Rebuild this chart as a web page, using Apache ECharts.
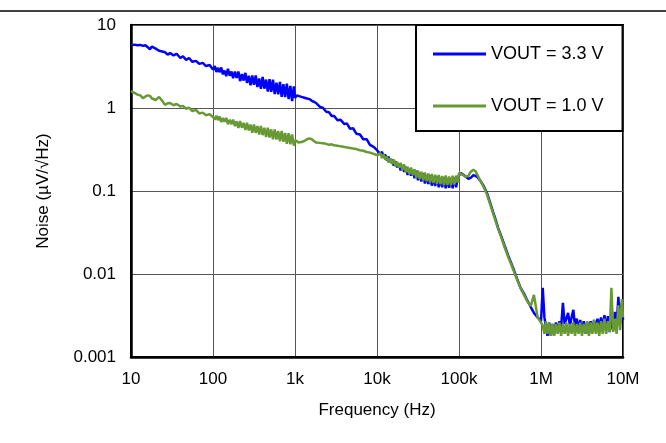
<!DOCTYPE html>
<html>
<head>
<meta charset="utf-8">
<script src="https://cdn.jsdelivr.net/npm/echarts@6/dist/echarts.min.js"></script>
<style>html,body{margin:0;padding:0;background:#fff}#c{width:666px;height:443px}</style>
</head>
<body>
<div id="c"></div>
<script>
// Frequency points (Hz)
const freqs = [
10,11,12,13,14,15,16,17,18,20,22,24,26,28,30,33,36,40,43,47,51,56,62,68,75,82,91,100,
105,110,115,120,126,132,138,145,152,160,168,176,185,194,204,214,225,236,248,260,273,287,301,316,332,348,366,384,403,423,444,466,489,513,539,566,594,624,655,688,722,758,796,836,878,922,968,1000,
1050,1100,1200,1300,1400,1500,1600,1700,1800,2000,2200,2400,2600,2800,3000,3300,3600,4000,4300,4700,5100,5600,6200,6800,7500,8200,9100,10000,
10500,11000,11500,12000,12600,13200,13800,14500,15200,16000,16800,17600,18500,19400,20400,21400,22500,23600,24800,26000,27300,28700,30100,31600,33200,34800,36600,38400,40300,42300,44400,46600,48900,51300,53900,56600,59400,62400,65500,68800,72200,75800,79600,83600,87800,92200,96800,100000,
105000,110000,120000,130000,140000,150000,160000,170000,180000,200000,220000,240000,260000,280000,300000,330000,360000,400000,430000,470000,510000,560000,620000,680000,750000,820000,910000,1000000,
1050000,1100000,1150000,1200000,1260000,1320000,1380000,1450000,1520000,1600000,1680000,1760000,1850000,1940000,2040000,2140000,2250000,2360000,2480000,2600000,2730000,2870000,3010000,3160000,3320000,3480000,3660000,3840000,4030000,4230000,4440000,4660000,4890000,5130000,5390000,5660000,5940000,6240000,6550000,6880000,7220000,7580000,7960000,8360000,8780000,9220000,9680000,10000000
];
// Noise, VOUT = 3.3 V (uV/rtHz)
const vout33 = [
5.7,5.8,5.7,5.75,5.6,5.7,5.4,5.1,5.5,5.2,4.9,4.8,4.7,4.4,4.6,4.3,4.5,4.0,4.2,3.8,4.0,3.6,3.7,3.4,3.5,3.2,3.3,2.9,
3.20,2.72,3.05,2.70,3.08,2.54,2.83,2.42,2.97,2.45,2.75,2.29,2.75,2.30,2.75,2.11,2.56,2.14,2.65,2.00,2.44,1.88,2.46,1.91,2.47,1.79,2.27,1.70,2.36,1.71,2.20,1.58,2.22,1.57,2.20,1.47,2.02,1.46,2.06,1.36,1.94,1.35,1.96,1.28,1.85,1.21,1.82,1.32,
1.42,1.40,1.36,1.33,1.30,1.28,1.22,1.19,1.15,1.04,1.00,0.90,0.89,0.80,0.80,0.71,0.72,0.64,0.65,0.56,0.57,0.49,0.48,0.42,0.42,0.36,0.34,0.31,
0.318,0.276,0.297,0.256,0.275,0.233,0.260,0.224,0.240,0.202,0.228,0.193,0.213,0.177,0.205,0.170,0.196,0.156,0.184,0.153,0.179,0.143,0.175,0.135,0.165,0.130,0.164,0.123,0.155,0.121,0.155,0.116,0.149,0.115,0.150,0.111,0.144,0.111,0.146,0.108,0.142,0.109,0.143,0.108,0.146,0.111,0.146,0.15,
0.165,0.16,0.15,0.14,0.145,0.155,0.152,0.145,0.135,0.115,0.094,0.072,0.056,0.045,0.036,0.028,0.022,0.0165,0.0138,0.0110,0.0088,0.0069,0.0058,0.0048,0.0040,0.0034,0.0030,0.0027,
0.0068,0.0030,0.0023,0.0018,0.0026,0.0018,0.0025,0.0019,0.0026,0.0020,0.0027,0.0023,0.0045,0.0025,0.0029,0.0034,0.0024,0.0030,0.0037,0.0023,0.0029,0.0021,0.0028,0.0020,0.0027,0.0019,0.0026,0.0019,0.0027,0.0020,0.0028,0.0021,0.0029,0.0022,0.0030,0.0022,0.0032,0.0022,0.0031,0.0020,0.0030,0.0021,0.0035,0.0023,0.0053,0.0025,0.0045,0.0028
];
// Noise, VOUT = 1.0 V (uV/rtHz)
const vout10 = [
1.60,1.52,1.45,1.42,1.31,1.38,1.42,1.40,1.30,1.25,1.36,1.22,1.09,1.14,1.15,1.08,1.12,1.04,1.06,0.98,1.01,0.92,0.95,0.86,0.88,0.82,0.84,0.78,
0.723,0.806,0.713,0.793,0.680,0.758,0.684,0.759,0.638,0.725,0.635,0.726,0.604,0.693,0.575,0.694,0.578,0.663,0.545,0.663,0.536,0.633,0.504,0.634,0.502,0.606,0.478,0.606,0.471,0.579,0.448,0.579,0.441,0.553,0.420,0.553,0.418,0.529,0.397,0.528,0.391,0.501,0.371,0.496,0.366,0.479,0.352,0.41,
0.40,0.385,0.39,0.40,0.42,0.43,0.42,0.40,0.385,0.38,0.375,0.37,0.36,0.365,0.355,0.35,0.345,0.34,0.335,0.33,0.325,0.32,0.31,0.305,0.295,0.29,0.28,0.27,
0.269,0.286,0.249,0.276,0.239,0.260,0.221,0.248,0.212,0.240,0.198,0.225,0.191,0.218,0.179,0.209,0.168,0.196,0.159,0.192,0.155,0.183,0.144,0.177,0.140,0.171,0.134,0.167,0.131,0.162,0.127,0.160,0.125,0.157,0.121,0.156,0.121,0.152,0.117,0.154,0.118,0.150,0.117,0.153,0.120,0.153,0.126,0.165,
0.168,0.158,0.148,0.152,0.172,0.18,0.172,0.152,0.135,0.112,0.090,0.069,0.054,0.043,0.035,0.027,0.021,0.0158,0.0133,0.0106,0.0086,0.0068,0.0056,0.0047,0.0041,0.0056,0.0030,0.0026,
0.0024,0.0019,0.0027,0.0019,0.0026,0.0018,0.0025,0.0018,0.0025,0.0019,0.0026,0.0018,0.0025,0.0019,0.0026,0.0018,0.0025,0.0019,0.0026,0.0018,0.0025,0.0019,0.0026,0.0018,0.0025,0.0019,0.0027,0.0018,0.0026,0.0019,0.0028,0.0019,0.0026,0.0018,0.0027,0.0019,0.0029,0.0019,0.0027,0.0020,0.0068,0.0020,0.0029,0.0019,0.0042,0.0021,0.0050,0.0030
];
const xTickLabels = {10:'10',100:'100',1000:'1k',10000:'10k',100000:'100k',1000000:'1M',10000000:'10M'};
const seriesNames = ['VOUT = 3.3 V','VOUT = 1.0 V'];

const FONT = '"Liberation Sans", Arial, sans-serif';
const chart = echarts.init(document.getElementById('c'), null, {renderer:'canvas'});
const pairs = (ys) => freqs.map((f,i)=>[f, ys[i]]);
chart.setOption({
  animation:false,
  backgroundColor:'#fff',
  grid:{left:131,right:43,top:25,bottom:86,show:true,borderColor:'#000',borderWidth:2,containLabel:false},
  legend:{
    data:seriesNames, orient:'vertical', left:416, top:25,
    padding:[20,19,16,17], itemGap:34, itemWidth:53, itemHeight:3, icon:'rect',
    borderColor:'#000', borderWidth:2, backgroundColor:'#fff', borderRadius:0,
    textStyle:{fontSize:18, color:'#000', fontFamily:FONT}, z:10
  },
  xAxis:{
    type:'log', logBase:10, min:10, max:10000000,
    name:'Frequency (Hz)', nameLocation:'middle', nameGap:45,
    nameTextStyle:{fontSize:17,color:'#000',fontFamily:FONT},
    axisLine:{show:true,lineStyle:{color:'#000',width:2.5}},
    axisTick:{show:false}, minorTick:{show:false},
    axisLabel:{fontSize:17,color:'#000',fontFamily:FONT,margin:14,formatter:(v)=>xTickLabels[Math.round(v)]||''},
    splitLine:{show:true,lineStyle:{color:'#555',width:1}}
  },
  yAxis:{
    type:'log', logBase:10, min:0.001, max:10,
    name:'Noise (µV/√Hz)', nameLocation:'middle', nameGap:79, nameRotate:90,
    nameTextStyle:{fontSize:17,color:'#000',fontFamily:FONT},
    axisLine:{show:true,lineStyle:{color:'#000',width:2.5}},
    axisTick:{show:false},
    axisLabel:{fontSize:17,color:'#000',fontFamily:FONT,margin:15,formatter:(v)=>{const m={0.001:'0.001',0.01:'0.01',0.1:'0.1',1:'1',10:'10'};for(const k in m){if(Math.abs(v-k)/k<1e-6)return m[k];}return '';}},
    splitLine:{show:true,lineStyle:{color:'#555',width:1}}
  },
  graphic:[{type:'line',shape:{x1:0,y1:11,x2:666,y2:11},style:{stroke:'#000',lineWidth:1.5},z:5}],
  series:[
    {name:seriesNames[0],type:'line',data:pairs(vout33),showSymbol:false,symbol:'none',color:'#0000FF',lineStyle:{width:2.5,color:'#0000FF'},z:2},
    {name:seriesNames[1],type:'line',data:pairs(vout10),showSymbol:false,symbol:'none',color:'#689A34',lineStyle:{width:2.5,color:'#689A34'},z:3}
  ]
});
</script>
</body>
</html>
